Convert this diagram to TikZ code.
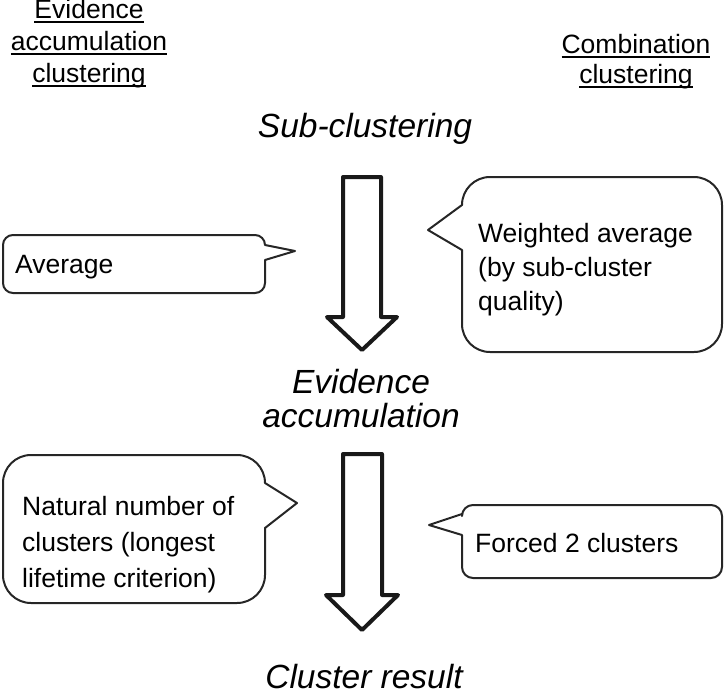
\documentclass[tikz,border=0pt]{standalone}
\usepackage{fontspec}
\setmainfont{Liberation Sans}
\newsavebox\myulbox
\newcommand\myul[1]{\sbox\myulbox{#1}\rlap{\rule[-5pt]{\wd\myulbox}{2pt}}\usebox\myulbox}
\tikzset{
  title/.style={font=\fontsize{26.5}{32}\selectfont, align=center, anchor=base, inner sep=0pt},
  stage/.style={font=\fontsize{33.5}{34}\selectfont\itshape, align=center, anchor=base, inner sep=0pt},
  ctext/.style={font=\fontsize{26.5}{34}\selectfont, align=left, anchor=base west, inner sep=0pt},
  callout/.style={draw=black!85, line width=2pt, line join=round},
  blockarrow/.style={draw=black!90, line width=4pt, line join=round, fill=white},
}
\begin{document}
\begin{tikzpicture}[x=1pt,y=-1pt]
\useasboundingbox (0,0) rectangle (724,694);

% titles (base anchor = baseline of last line)
\node[title] (tleft) at (89,82) {\myul{Evidence}\\\myul{accumulation}\\\myul{clustering}};
\node[title, font=\fontsize{26.5}{30}\selectfont] (tright) at (636,83) {\myul{Combination}\\\myul{clustering}};

% stages
\node[stage] (sub) at (365,137) {Sub-clustering};
\node[stage] (evi) at (361,427) {Evidence\\accumulation};
\node[stage] (res) at (364,688) {Cluster result};

% block arrows
\coordinate (a1top) at (362,177);
\coordinate (a1tip) at (362,350);
\draw[blockarrow] (343,177) -- (381,177) -- (381,317) -- (397,317) -- (a1tip) -- (327,317) -- (343,317) -- cycle;
\coordinate (a2top) at (362,454);
\coordinate (a2tip) at (362,630);
\draw[blockarrow] (343,454) -- (382,454) -- (382,595) -- (398,595) -- (a2tip) -- (326,595) -- (343,595) -- cycle;

% callout: Average
\draw[callout] (120,235) [rounded corners=10pt] -- (265,235)
  [sharp corners] -- (265,245) -- (295,251) -- (265,260)
  [rounded corners=10pt] -- (265,293) -- (3,293) -- (3,235) -- cycle;
\node[ctext] (avg) at (15,273) {Average};

% callout: Weighted average
\draw[callout] (590,177) [rounded corners=28pt] -- (722,177) -- (722,352) -- (462,352)
  [sharp corners] -- (462,250) -- (428,230) -- (462,205)
  [rounded corners=28pt] -- (462,177) -- cycle;
\node[ctext] (wavg) at (478,310) {Weighted average\\(by sub-cluster\\quality)};

% callout: Natural number
\draw[callout] (130,455) [rounded corners=28pt] -- (265,455)
  [sharp corners] -- (265,483) -- (297,503) -- (265,528)
  [rounded corners=28pt] -- (265,603) -- (3,603) -- (3,455) -- cycle;
\node[ctext, font=\fontsize{26.5}{36}\selectfont] (nat) at (22,587) {Natural number of\\clusters (longest\\lifetime criterion)};

% callout: Forced 2 clusters
\draw[callout] (590,505) [rounded corners=11pt] -- (722,505) -- (722,578) -- (462,578)
  [sharp corners] -- (462,535) -- (429,525) -- (462,514)
  [rounded corners=11pt] -- (462,505) -- cycle;
\node[ctext] (forced) at (475,552) {Forced 2 clusters};
\end{tikzpicture}
\end{document}
